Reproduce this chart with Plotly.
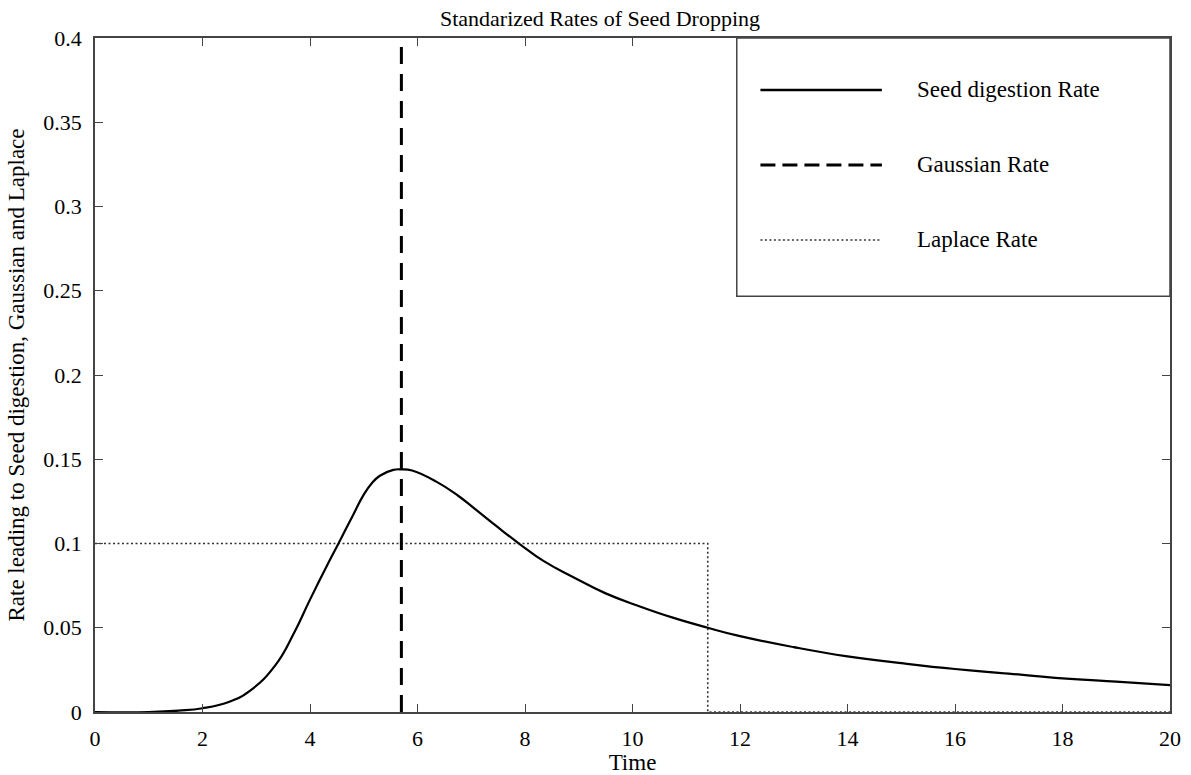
import plotly.graph_objects as go

# ---- data ----
seed_x = [0, 1, 1.55, 2.0, 2.5, 2.9, 3.35, 3.7, 4.0, 4.35, 4.53, 4.8, 5.0, 5.15, 5.3, 5.55, 5.7, 5.9,
          6.35, 6.75, 7.05, 7.5, 7.9, 8.35, 8.9, 9.5, 10.15, 10.75, 11.4, 12, 13, 14, 15, 16, 17, 18, 19, 20]
seed_y = [0, 0, 0.0008, 0.0022, 0.0061, 0.013, 0.0275, 0.0467, 0.0667, 0.089, 0.100, 0.1168, 0.1290, 0.1358, 0.1402, 0.1437, 0.1440, 0.1433,
          0.1367, 0.1285, 0.1210, 0.1095, 0.0997, 0.0895, 0.080, 0.0704, 0.0625, 0.056, 0.050, 0.045, 0.0385, 0.033, 0.029, 0.0255, 0.0228, 0.020, 0.018, 0.016]

gauss_x = [5.7, 5.7]
gauss_y = [0, 0.4]

laplace_x = [0, 11.4, 11.4, 20]
laplace_y = [0.1, 0.1, 0, 0]

x_ticks = [0, 2, 4, 6, 8, 10, 12, 14, 16, 18, 20]
y_ticks = [0, 0.05, 0.1, 0.15, 0.2, 0.25, 0.3, 0.35, 0.4]
y_ticktext = ["0", "0.05", "0.1", "0.15", "0.2", "0.25", "0.3", "0.35", "0.4"]

legend_names = ["Seed digestion Rate", "Gaussian Rate", "Laplace Rate"]

FONT = "Liberation Serif"

fig = go.Figure()
fig.add_trace(go.Scatter(x=laplace_x, y=laplace_y, mode="lines",
                         line=dict(color="#333", width=1.6, dash="2px,2.5px"),
                         name=legend_names[2], showlegend=False))
fig.add_trace(go.Scatter(x=seed_x, y=seed_y, mode="lines", line_shape="spline",
                         line=dict(color="black", width=2.2, smoothing=1.3),
                         name=legend_names[0], showlegend=False))
fig.add_trace(go.Scatter(x=gauss_x, y=gauss_y, mode="lines",
                         line=dict(color="black", width=3, dash="17px,10px"),
                         name=legend_names[1], showlegend=False))

# manual legend box (matching reference style)
lx0, lx1 = 0.597, 1.0
ly0, ly1 = 0.617, 1.0
fig.add_shape(type="rect", xref="paper", yref="paper", x0=lx0, x1=lx1, y0=ly0, y1=ly1,
              line=dict(color="#444", width=1.5), fillcolor="white", layer="above")
rows = [0.923, 0.8116, 0.7003]
styles = [dict(color="black", width=2.5), dict(color="black", width=3, dash="15px,7px"),
          dict(color="#333", width=1.6, dash="2px,2.5px")]
for yy, st, nm in zip(rows, styles, legend_names):
    fig.add_shape(type="line", xref="paper", yref="paper", x0=0.619, x1=0.732, y0=yy, y1=yy,
                  line=st, layer="above")
    fig.add_annotation(xref="paper", yref="paper", x=0.7656, y=yy, text=nm, showarrow=False,
                       xanchor="left", yanchor="middle", xshift=-3,
                       font=dict(family=FONT, size=23, color="black"))

fig.update_layout(
    width=1191, height=775,
    margin=dict(l=95, r=21, t=38, b=63),
    paper_bgcolor="white", plot_bgcolor="white",
    font=dict(family=FONT, size=22, color="black"),
    title=dict(text="Standarized Rates of Seed Dropping", x=600/1191, xanchor="center",
               y=1 - 18/775, yanchor="middle", font=dict(family=FONT, size=22)),
    showlegend=False,
)
fig.update_xaxes(range=[0, 20], tickvals=x_ticks, ticks="inside", ticklen=8, tickcolor="#444",
                 showline=True, linecolor="#444", linewidth=1.5, mirror="ticks",
                 showgrid=False, zeroline=False, automargin=False, ticklabelstandoff=6,
                 title=dict(text="Time", font=dict(family=FONT, size=23), standoff=10),
                 tickfont=dict(family=FONT, size=22))
fig.update_yaxes(range=[0, 0.4], tickvals=y_ticks, ticktext=y_ticktext, ticks="inside", ticklen=8,
                 tickcolor="#444", showline=True, linecolor="#444", linewidth=1.5, mirror="ticks",
                 showgrid=False, zeroline=False, automargin=False, ticklabelstandoff=7,
                 title=dict(text="Rate leading to Seed digestion, Gaussian and Laplace",
                            font=dict(family=FONT, size=23), standoff=12),
                 tickfont=dict(family=FONT, size=22))

fig.write_html("out.html")
